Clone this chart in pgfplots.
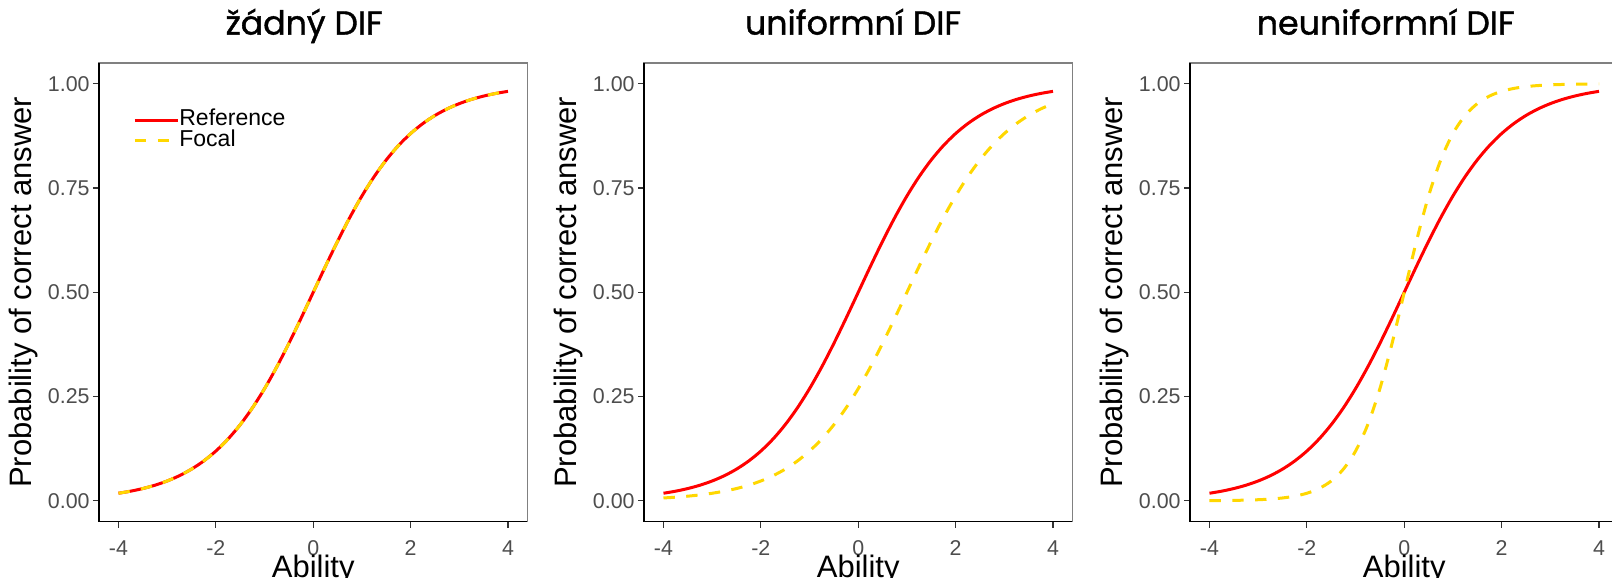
\documentclass[border=0pt]{standalone}
\usepackage{pgfplots}
\usepackage{pgfplotstable}
\pgfplotsset{compat=1.18}
\usepackage{fontspec}
\setmainfont{Liberation Sans}
\newfontfamily\titlefont[FakeBold=1.2]{Poppins}
\definecolor{refred}{HTML}{FF0000}
\definecolor{focgold}{HTML}{FFD700}
\definecolor{ticklab}{HTML}{4D4D4D}
\definecolor{tickcol}{HTML}{333333}
\definecolor{boxcol}{HTML}{808080}

\pgfplotstableread{
x ref unif nonunif
-4 0.017986 0.006693 0.000335
-3.75 0.022977 0.008577 0.000553
-3.5 0.029312 0.010987 0.000911
-3.25 0.037327 0.014064 0.001501
-3 0.047426 0.017986 0.002473
-2.75 0.060087 0.022977 0.004070
-2.5 0.075858 0.029312 0.006693
-2.25 0.095349 0.037327 0.010987
-2 0.119203 0.047426 0.017986
-1.75 0.148047 0.060087 0.029312
-1.5 0.182426 0.075858 0.047426
-1.25 0.222700 0.095349 0.075858
-1 0.268941 0.119203 0.119203
-0.75 0.320821 0.148047 0.182426
-0.5 0.377541 0.182426 0.268941
-0.25 0.437823 0.222700 0.377541
0 0.5 0.268941 0.5
0.25 0.562177 0.320821 0.622459
0.5 0.622459 0.377541 0.731059
0.75 0.679179 0.437823 0.817574
1 0.731059 0.5 0.880797
1.25 0.777300 0.562177 0.924142
1.5 0.817574 0.622459 0.952574
1.75 0.851953 0.679179 0.970688
2 0.880797 0.731059 0.982014
2.25 0.904651 0.777300 0.989013
2.5 0.924142 0.817574 0.993307
2.75 0.939913 0.851953 0.995930
3 0.952574 0.880797 0.997527
3.25 0.962673 0.904651 0.998499
3.5 0.970688 0.924142 0.999089
3.75 0.977023 0.939913 0.999447
4 0.982014 0.952574 0.999665
}\difdata

\pgfplotsset{
  dif/.style={
    scale only axis, width=214.25pt, height=229.3pt,
    anchor=south west,
    xmin=-4.4, xmax=4.4, ymin=-0.05, ymax=1.05,
    xtick={-4,-2,0,2,4}, ytick={0,0.25,0.5,0.75,1},
    tick align=outside, major tick length=3pt,
    xtick pos=lower, ytick pos=left,
    tick style={color=tickcol, line width=0.6pt},
    /pgf/number format/assume math mode=true,
    ticklabel style={font=\fontsize{10.7}{12}\selectfont, text=ticklab},
    xticklabel style={inner sep=2pt, yshift=-4.3pt},
    yticklabel style={inner sep=1.5pt, /pgf/number format/.cd, fixed, fixed zerofill, precision=2},
    axis line style={boxcol, line width=0.6pt},
    xlabel={Ability}, ylabel={Probability of correct answer},
    label style={font=\fontsize{15.5}{18}\selectfont},
    xlabel style={at={(axis description cs:0.5,0)}, anchor=base, yshift=-27.7pt},
    ylabel style={at={(axis description cs:-0.1774,0.5)}, anchor=center},
    title style={anchor=base, yshift=8.2pt, font=\titlefont\fontsize{16.6}{20}\selectfont},
    clip=false,
    every axis plot/.append style={line width=1.5pt, line join=round},
    legend image code/.code={\draw[##1] (0pt,0pt) -- (16.4pt,0pt); \path (0pt,0pt) -- (21.45pt,0pt);},
    after end axis/.code={\draw[black, line width=0.8pt] (rel axis cs:0,1) -- (rel axis cs:0,0) -- (rel axis cs:1,0);},
  },
  refline/.style={refred, smooth},
  focline/.style={focgold, smooth, dash pattern=on 5.7pt off 5.7pt},
}

\begin{document}
\begin{tikzpicture}
\begin{axis}[dif, at={(49.5pt,28.2pt)},
  title={žádný DIF}, title style={at={(axis description cs:0.479,1)}},
  legend cell align=left,
  legend style={at={(axis cs:-3.70,0.939)}, anchor=north west, draw=none, fill=none,
    font=\fontsize{11.5}{13}\selectfont, inner sep=0pt, row sep=0pt,
    nodes={inner sep=0pt, text height=8pt, text depth=2.35pt}},
]
\addplot[refline] table[x=x, y=ref] {\difdata};
\addlegendentry{Reference}
\addplot[focline] table[x=x, y=ref] {\difdata};
\addlegendentry{Focal}
\end{axis}

\begin{axis}[dif, at={(322pt,28.2pt)},
  title={uniformní DIF}, title style={at={(axis description cs:0.488,1)}},
]
\addplot[refline] table[x=x, y=ref] {\difdata};
\addplot[focline] table[x=x, y=unif] {\difdata};
\end{axis}

\begin{axis}[dif, at={(595pt,28.2pt)},
  title={neuniformní DIF}, title style={at={(axis description cs:0.457,1)}},
]
\addplot[refline] table[x=x, y=ref] {\difdata};
\addplot[focline] table[x=x, y=nonunif] {\difdata};
\end{axis}

\pgfresetboundingbox
\path[use as bounding box] (0pt,0pt) rectangle (806pt,289pt);
\end{tikzpicture}
\end{document}
